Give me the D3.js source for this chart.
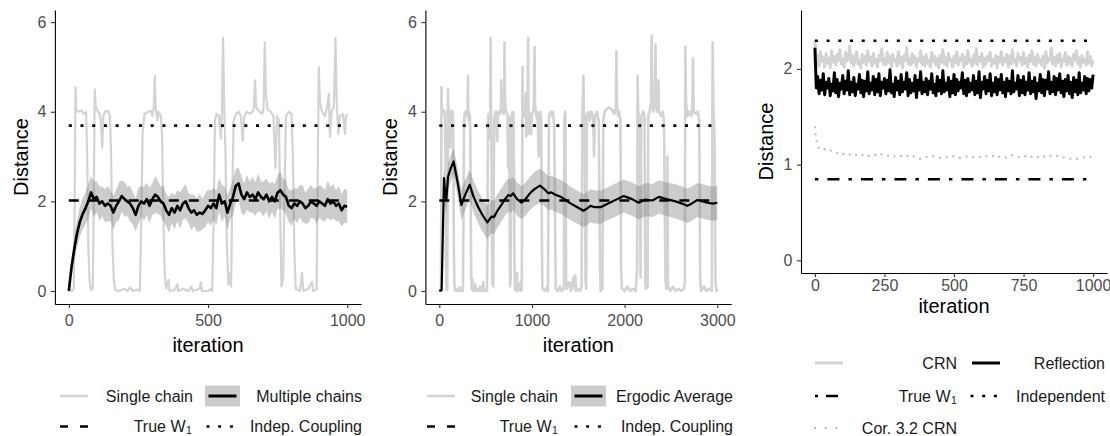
<!DOCTYPE html>
<html><head><meta charset="utf-8">
<script src="https://cdn.jsdelivr.net/npm/d3@7"></script>
<style>
body{margin:0;background:#fff}
svg{display:block}
text{font-family:"Liberation Sans",Arial,Helvetica,sans-serif}
</style>
</head><body>
<svg id="c" width="1110" height="436"></svg>
<script>
// ---------------- DATA ----------------
const trueW1 = 2.02;
const indepCoupling = 3.69;
const trueW1Gauss = 0.847;
const independentGauss = 2.294;

// single chain (first 1000 iterations, shared by panels 1 and 2)
const singleChainFirst = [
[0,0],[6,0.03],[12,0],[18,0.06],[21,2.0],[24,4.55],[27,4.05],[35,4.0],[45,4.03],[55,3.95],[62,4.0],[66,3.0],[70,1.0],[75,0.2],[80,0.02],[86,0.05],[89,1.5],[93,4.5],[97,4.1],[105,4.0],[112,3.95],[117,3.6],[120,3.2],[124,3.9],[130,4.0],[140,4.02],[148,3.9],[152,3.0],[157,1.0],[162,0.2],[168,0.02],[180,0],[200,0.05],[210,0],[220,0.08],[230,0],[245,0.03],[255,0],[260,1.5],[265,3.5],[272,3.95],[285,4.0],[295,4.02],[300,3.9],[305,4.1],[309,4.8],[312,4.1],[318,3.8],[322,4.0],[330,3.9],[335,3.5],[340,1.5],[345,0.3],[350,0.05],[358,0.25],[362,0],[380,0.02],[390,0.15],[393,0],[410,0.05],[430,0],[440,0.1],[445,0],[470,0.05],[475,0.2],[478,0],[500,0],[510,0.05],[515,0],[520,1.5],[525,3.8],[530,3.95],[540,3.9],[546,3.4],[550,4.0],[554,5.65],[558,4.2],[563,3.0],[568,1.0],[573,0.15],[578,0.4],[583,0.1],[587,2.0],[592,3.8],[600,3.95],[610,4.0],[618,3.9],[625,3.35],[630,3.9],[640,4.0],[650,3.95],[660,4.0],[665,4.1],[669,4.7],[673,4.1],[685,4.0],[695,3.95],[700,4.1],[704,5.55],[708,4.4],[714,4.05],[725,4.0],[735,3.9],[742,2.75],[748,3.9],[755,3.8],[760,1.5],[764,0.1],[770,0.3],[776,2.5],[780,3.9],[790,4.0],[800,3.95],[805,3.0],[810,1.0],[815,0.05],[830,0],[838,0.4],[842,0],[860,0.05],[874,0.2],[877,0],[890,0.03],[894,2.5],[898,5.0],[902,4.2],[910,4.0],[920,3.9],[928,4.1],[934,4.4],[938,3.45],[944,4.0],[952,4.1],[958,5.65],[962,4.3],[968,3.5],[974,3.9],[985,3.95],[992,3.5],[996,3.9],[1000,3.95]
];
// single chain continued (iterations 1000-3000, panel 2)
const singleChainLater = [
[1010,4.0],[1020,4.1],[1028,5.45],[1033,4.2],[1045,3.9],[1055,4.0],[1065,3.6],[1072,3.0],[1080,3.9],[1090,4.0],[1100,3.8],[1108,1.0],[1112,0.05],[1140,0],[1160,0.08],[1172,0],[1178,2.0],[1183,3.9],[1200,4.0],[1215,3.9],[1225,4.0],[1240,3.7],[1250,1.5],[1256,0.05],[1280,0],[1300,0.1],[1320,0],[1345,0.05],[1350,3.9],[1360,4.0],[1368,0.3],[1375,0.05],[1400,0.2],[1420,0],[1447,0.3],[1460,0.05],[1468,0.35],[1475,0],[1500,0.05],[1520,0],[1535,0.1],[1545,4.0],[1555,4.8],[1560,4.0],[1570,3.9],[1578,0.2],[1585,0.05],[1592,3.9],[1610,4.0],[1625,3.8],[1640,4.0],[1660,3.9],[1670,3.0],[1680,3.9],[1700,4.0],[1720,3.8],[1735,0.5],[1742,0],[1760,0.05],[1770,3.8],[1785,4.0],[1800,4.05],[1830,4.1],[1860,4.05],[1890,3.95],[1905,4.1],[1911,5.35],[1917,4.2],[1930,3.9],[1942,4.0],[1955,3.8],[1962,0.5],[1970,0.05],[2000,0],[2030,0.1],[2060,0],[2090,0.05],[2120,0],[2135,0.5],[2140,4.8],[2146,4.0],[2160,3.8],[2172,0.3],[2180,3.9],[2200,4.0],[2215,3.9],[2222,0.2],[2230,0.05],[2248,0.1],[2255,3.9],[2270,4.0],[2285,4.2],[2292,5.7],[2298,4.2],[2310,4.0],[2325,4.3],[2333,5.5],[2338,4.2],[2350,4.0],[2360,4.5],[2365,4.7],[2370,4.0],[2390,3.9],[2410,4.0],[2425,3.8],[2440,0.3],[2448,0.05],[2458,0.2],[2462,3.0],[2468,0.1],[2490,0],[2520,0.1],[2550,0],[2580,0.05],[2610,0],[2640,0.05],[2650,0.2],[2655,5.45],[2662,4.2],[2680,3.9],[2700,4.0],[2720,3.9],[2730,4.1],[2738,5.2],[2745,4.0],[2770,3.95],[2790,4.0],[2805,3.8],[2815,0.3],[2825,0],[2860,0.1],[2880,0],[2910,0.05],[2940,0],[2950,5.55],[2958,4.0],[2970,3.5],[2980,0.2],[2990,0],[3000,0.05]
];

// multiple chains average, every 10 iterations (panel 1)
const multiStep = 10;
const multiMean = [0,0.55,0.95,1.3,1.55,1.72,1.85,2.0,2.2,2.05, 2.1,1.95,2.0,1.9,1.95,1.9,1.75,1.9,2.0,2.12, 2.05,2.0,1.95,1.85,1.7,1.9,2.0,1.95,2.05,1.9, 2.05,2.15,2.1,2.0,1.95,1.8,1.7,1.85,1.75,1.9, 1.8,1.95,2.0,1.85,1.75,1.8,1.7,1.75,1.72,1.8, 1.9,1.85,1.95,1.85,2.15,1.95,2.0,1.75,1.95,2.1, 2.35,2.4,2.15,2.05,2.2,2.1,2.15,2.05,2.2,2.1, 2.05,2.15,2.0,2.1,2.0,2.2,2.25,2.15,2.1,1.9, 1.85,1.95,1.9,2.0,1.95,1.85,1.9,2.0,1.95,1.9, 2.0,1.95,1.9,2.05,1.95,2.0,1.9,1.95,1.8,1.9, 1.88];
const multiHalf = [0.02,0.2,0.28,0.3,0.33,0.35,0.36,0.38,0.36,0.4, 0.35,0.38,0.33,0.37,0.4,0.34,0.38,0.36,0.42,0.35, 0.38,0.33,0.4,0.36,0.37,0.41,0.34,0.38,0.36,0.4, 0.35,0.42,0.37,0.33,0.39,0.36,0.4,0.34,0.38,0.35, 0.41,0.36,0.38,0.33,0.4,0.35,0.37,0.42,0.34,0.38, 0.36,0.4,0.35,0.39,0.37,0.42,0.34,0.38,0.36,0.4, 0.38,0.35,0.41,0.36,0.39,0.34,0.4,0.37,0.42,0.35, 0.38,0.36,0.4,0.33,0.39,0.37,0.41,0.35,0.38,0.36, 0.4,0.34,0.38,0.36,0.41,0.35,0.39,0.37,0.33,0.4, 0.36,0.38,0.35,0.41,0.37,0.39,0.34,0.4,0.36,0.38, 0.37];

// ergodic average (panel 2)
const ergodicIter = [0,25,51,62,76,94,125,155,200,238,280,328,370,418,470,519,562,591,630,670,710,743,770,797,840,888,930,978,1030,1086,1130,1176,1210,1249,1303,1350,1411,1480,1556,1600,1632,1680,1740,1800,1850,1920,1990,2080,2152,2224,2300,2369,2450,2550,2620,2676,2730,2785,2840,2893,2950,3000];
const ergodicMean = [0,0.02,2.52,2.2,2.03,2.55,2.75,2.89,2.4,1.92,2.15,2.37,2.1,1.88,1.68,1.53,1.66,1.65,1.8,1.92,2.05,2.14,2.12,2.18,2.05,1.97,2.05,2.18,2.28,2.35,2.28,2.18,2.2,2.15,2.11,2.05,1.96,1.88,1.79,1.85,1.9,1.87,1.87,1.93,1.98,2.05,2.12,2.05,1.97,2.04,2.02,2.1,2.05,2.0,1.95,1.9,1.96,2.03,2.0,1.97,1.95,1.97];
const ergodicHalf = [0,0,0.28,0.3,0.3,0.3,0.3,0.3,0.32,0.33,0.34,0.34,0.35,0.36,0.37,0.37,0.37,0.37,0.37,0.37,0.37,0.37,0.37,0.37,0.37,0.37,0.37,0.37,0.38,0.38,0.38,0.38,0.38,0.38,0.38,0.38,0.37,0.37,0.37,0.37,0.37,0.37,0.37,0.37,0.37,0.37,0.37,0.37,0.37,0.37,0.37,0.37,0.37,0.38,0.38,0.38,0.38,0.38,0.38,0.38,0.38,0.38];

// panel 3: coupling distances, every 5 iterations
const couplingStep = 5;
const crnDist = [2.30,2.05,2.14,2.03,2.18,2.08,2.12,2.02,2.16,2.06, 2.11,2.01,2.19,2.07,2.13,2.04,2.15,2.09,2.20,2.05, 2.10,2.02,2.17,2.08,2.12,2.24,2.06,2.14,2.03,2.11, 2.18,2.05,2.09,2.01,2.15,2.07,2.13,2.04,2.19,2.08, 2.12,2.03,2.16,2.06,2.10,2.02,2.14,2.09,2.21,2.05, 2.11,2.04,2.17,2.07,2.13,2.02,2.15,2.08,2.10,2.03, 2.18,2.06,2.12,2.01,2.14,2.09,2.22,2.05,2.11,2.04, 2.16,2.07,2.13,2.02,2.10,2.08,2.19,2.05,2.12,2.03, 2.15,2.06,2.09,2.02,2.17,2.08,2.13,2.04,2.11,2.01, 2.14,2.07,2.20,2.05,2.12,2.03,2.16,2.09,2.10,2.02, 2.13,2.06,2.18,2.04,2.11,2.08,2.15,2.02,2.12,2.05, 2.19,2.07,2.10,2.03,2.14,2.06,2.21,2.04,2.12,2.08, 2.16,2.02,2.11,2.05,2.13,2.09,2.17,2.03,2.10,2.06, 2.14,2.01,2.12,2.07,2.18,2.04,2.11,2.08,2.15,2.02, 2.13,2.05,2.20,2.07,2.10,2.03,2.16,2.09,2.12,2.04, 2.17,2.06,2.11,2.02,2.14,2.08,2.19,2.05,2.12,2.03, 2.15,2.07,2.10,2.04,2.13,2.01,2.18,2.06,2.11,2.09, 2.22,2.05,2.12,2.03,2.14,2.07,2.16,2.02,2.10,2.08, 2.17,2.04,2.13,2.06,2.11,2.03,2.15,2.09,2.19,2.05, 2.12,2.02,2.14,2.07,2.10,2.04,2.18,2.06,2.13,2.03, 2.09];
const reflectionDist = [2.22,1.80,1.92,1.74,1.88,1.78,1.95,1.73,1.86,1.80, 1.90,1.72,1.84,1.77,1.96,1.75,1.89,1.71,1.85,1.79, 1.93,1.74,1.87,1.78,1.98,1.73,1.86,1.76,1.91,1.72, 1.84,1.79,1.94,1.75,1.88,1.71,1.87,1.77,1.97,1.74, 1.85,1.78,1.92,1.73,1.89,1.76,1.95,1.72,1.86,1.80, 1.90,1.74,1.88,1.77,1.99,1.75,1.84,1.71,1.91,1.78, 1.87,1.73,1.94,1.76,1.86,1.79,1.96,1.72,1.89,1.75, 1.85,1.77,1.93,1.70,1.88,1.78,1.97,1.74,1.86,1.76, 1.90,1.73,1.87,1.79,1.95,1.75,1.84,1.72,1.92,1.77, 1.88,1.74,1.98,1.76,1.85,1.78,1.91,1.71,1.87,1.75, 1.94,1.73,1.89,1.77,1.86,1.80,1.96,1.74,1.88,1.72, 1.90,1.76,1.85,1.78,1.93,1.73,1.87,1.75,1.97,1.70, 1.86,1.79,1.92,1.74,1.88,1.77,1.95,1.72,1.85,1.76, 1.91,1.73,1.89,1.78,1.94,1.75,1.86,1.71,1.90,1.77, 1.87,1.74,1.98,1.76,1.85,1.79,1.93,1.72,1.88,1.75, 1.92,1.73,1.86,1.78,1.96,1.74,1.87,1.76,1.91,1.69, 1.85,1.77,1.94,1.75,1.89,1.72,1.88,1.79,1.97,1.74, 1.86,1.76,1.92,1.73,1.90,1.78,1.95,1.75,1.87,1.71, 1.89,1.77,1.93,1.74,1.86,1.70,1.91,1.76,1.88,1.73, 1.96,1.75,1.85,1.78,1.92,1.74,1.90,1.77,1.89,1.80, 1.94];
const corIter = [0,3,6,10,15,20,30,40,50,60,70,80,90,100,110,120,130,140,150,160,170,180,190,200,210,220,230,240,250,260,270,280,290,300,310,320,330,340,350,360,370,380,390,400,410,420,430,440,450,460,470,480,490,500,510,520,530,540,550,560,570,580,590,600,610,620,630,640,650,660,670,680,690,700,710,720,730,740,750,760,770,780,790,800,810,820,830,840,850,860,870,880,890,900,910,920,930,940,950,960,970,980,990,1000];
const corBound = [1.40,1.30,1.24,1.19,1.17,1.16,1.17,1.15,1.16,1.14,1.13,1.12,1.13,1.11,1.12,1.10,1.11,1.12,1.10,1.11,1.10,1.11,1.09,1.10,1.11,1.10,1.09,1.11,1.10,1.09,1.10,1.08,1.09,1.08,1.09,1.08,1.09,1.10,1.08,1.09,1.07,1.06,1.07,1.08,1.07,1.08,1.09,1.08,1.07,1.08,1.08,1.07,1.08,1.09,1.08,1.07,1.08,1.09,1.08,1.07,1.08,1.09,1.08,1.07,1.08,1.09,1.08,1.09,1.07,1.08,1.09,1.08,1.07,1.08,1.10,1.09,1.08,1.07,1.08,1.09,1.10,1.08,1.09,1.08,1.07,1.09,1.08,1.10,1.09,1.08,1.09,1.08,1.07,1.08,1.07,1.06,1.05,1.06,1.06,1.07,1.08,1.09,1.08,1.09];

const xTicks1 = [0,500,1000], xTicks2 = [0,1000,2000,3000], xTicks3 = [0,250,500,750,1000];
const yTicks12 = [0,2,4,6], yTicks3 = [0,1,2];

// ---------------- STYLE ----------------
const LIGHT = "#d3d3d3", RIB = "#7f7f7f", RIBOP = 0.4;
const DOT = "3,8.7", DASH = "10,10", DOTDASH = "3.5,9,12,9";
const svg = d3.select("#c");

function axes(g, x, y, xt, yt, xpad, xTitleY, yTitleX) {
  const ax = g.append("g").attr("transform", `translate(0,${y.range()[0]})`)
    .call(d3.axisBottom(x).tickValues(xt).tickSize(4).tickSizeOuter(0).tickPadding(xpad).tickFormat(d3.format("d")));
  const ay = g.append("g").attr("transform", `translate(${x.range()[0]},0)`)
    .call(d3.axisLeft(y).tickValues(yt).tickSize(4).tickSizeOuter(0).tickPadding(4.5).tickFormat(d3.format("d")));
  [ax, ay].forEach(a => {
    a.attr("font-family", null).attr("font-size", null);
    a.select(".domain").attr("stroke", "#000").attr("stroke-width", 1.1);
    a.selectAll(".tick line").attr("stroke", "#333").attr("stroke-width", 1.1);
    a.selectAll(".tick text").attr("fill", "#4d4d4d").style("font-size", "16px");
  });
  const xm = (x.range()[0] + x.range()[1]) / 2;
  g.append("text").attr("x", xm).attr("y", xTitleY).attr("text-anchor", "middle")
    .style("font-size", "20px").attr("fill", "#000").text("iteration");
  const ym = (y.range()[0] + y.range()[1]) / 2;
  g.append("text").attr("transform", `translate(${yTitleX},${ym}) rotate(-90)`)
    .attr("text-anchor", "middle").attr("dominant-baseline", "central")
    .style("font-size", "20px").attr("fill", "#000").text("Distance");
}

function hline(g, x, y, x0, x1, v, dash, col, w) {
  g.append("line").attr("x1", x(x0)).attr("x2", x(x1)).attr("y1", y(v)).attr("y2", y(v))
    .attr("stroke", col || "#000").attr("stroke-width", w || 2.6).attr("stroke-dasharray", dash);
}

function legText(g, xr, yc, label, sub) {
  const off = sub ? 6.5 : 0;
  g.append("text").attr("x", xr - off).attr("y", yc + 5.5).attr("text-anchor", "end")
    .style("font-size", "16px").attr("fill", "#1a1a1a").text(label);
  if (sub) g.append("text").attr("x", xr - off + 0.5).attr("y", yc + 7.5).attr("text-anchor", "start")
    .style("font-size", "10.5px").attr("fill", "#1a1a1a").text(sub);
}
function legLine(g, x0, x1, yc, col, w, dash) {
  g.append("line").attr("x1", x0).attr("x2", x1).attr("y1", yc).attr("y2", yc)
    .attr("stroke", col).attr("stroke-width", w).attr("stroke-dasharray", dash || null);
}
function legBox(g, x0, yc) {
  g.append("rect").attr("x", x0).attr("y", yc - 10.5).attr("width", 35).attr("height", 21)
    .attr("fill", RIB).attr("fill-opacity", RIBOP);
  legLine(g, x0 + 3.5, x0 + 31.5, yc, "#000", 3);
}

// ---------------- PANEL 1 ----------------
{
  const g = svg.append("g");
  const x = d3.scaleLinear().domain([-50, 1050]).range([54.9, 361.1]);
  const y = d3.scaleLinear().domain([-0.29, 6.27]).range([304, 10]);
  const line = d3.line().x(d => x(d[0])).y(d => y(d[1]));
  g.append("path").datum(singleChainFirst).attr("d", line).attr("fill", "none")
    .attr("stroke", LIGHT).attr("stroke-width", 2.2).attr("stroke-linejoin", "round");
  const idx = d3.range(multiMean.length);
  g.append("path").datum(idx).attr("d", d3.area().x(i => x(i * multiStep))
      .y0(i => y(multiMean[i] - multiHalf[i])).y1(i => y(multiMean[i] + multiHalf[i])))
    .attr("fill", RIB).attr("fill-opacity", RIBOP);
  hline(g, x, y, 0, 1000, trueW1, DASH);
  g.append("path").datum(idx).attr("d", d3.line().x(i => x(i * multiStep)).y(i => y(multiMean[i])))
    .attr("fill", "none").attr("stroke", "#000").attr("stroke-width", 2.6).attr("stroke-linejoin", "round");
  hline(g, x, y, 0, 1000, indepCoupling, DOT);
  axes(g, x, y, xTicks1, yTicks12, 7, 351.5, 21);
  // legend
  legLine(g, 60, 88, 396, LIGHT, 2.5);
  legText(g, 193, 396, "Single chain");
  legBox(g, 205, 396);
  legText(g, 362, 396, "Multiple chains");
  legLine(g, 60, 88, 426.5, "#000", 2.6, "8,12");
  legText(g, 192, 426.5, "True W", "1");
  legLine(g, 206.5, 237, 426.5, "#000", 2.6, DOT);
  legText(g, 362, 426.5, "Indep. Coupling");
}

// ---------------- PANEL 2 ----------------
{
  const g = svg.append("g");
  const x = d3.scaleLinear().domain([-150, 3150]).range([425.4, 731.2]);
  const y = d3.scaleLinear().domain([-0.29, 6.27]).range([304, 10]);
  const line = d3.line().x(d => x(d[0])).y(d => y(d[1]));
  g.append("path").datum(singleChainFirst.concat(singleChainLater)).attr("d", line).attr("fill", "none")
    .attr("stroke", LIGHT).attr("stroke-width", 2.6).attr("stroke-linejoin", "round");
  const idx = d3.range(ergodicIter.length);
  g.append("path").datum(idx).attr("d", d3.area().x(i => x(ergodicIter[i]))
      .y0(i => y(ergodicMean[i] - ergodicHalf[i])).y1(i => y(ergodicMean[i] + ergodicHalf[i])))
    .attr("fill", RIB).attr("fill-opacity", RIBOP);
  hline(g, x, y, 0, 3000, trueW1, DASH);
  g.append("path").datum(idx).attr("d", d3.line().x(i => x(ergodicIter[i])).y(i => y(ergodicMean[i])))
    .attr("fill", "none").attr("stroke", "#000").attr("stroke-width", 2.2).attr("stroke-linejoin", "round");
  hline(g, x, y, 0, 3000, indepCoupling, DOT);
  axes(g, x, y, xTicks2, yTicks12, 7, 351.5, 390);
  legLine(g, 427, 455, 396, LIGHT, 2.5);
  legText(g, 558, 396, "Single chain");
  legBox(g, 571, 396);
  legText(g, 733, 396, "Ergodic Average");
  legLine(g, 427, 455, 426.5, "#000", 2.6, "8,12");
  legText(g, 558, 426.5, "True W", "1");
  legLine(g, 574.5, 605, 426.5, "#000", 2.6, DOT);
  legText(g, 733, 426.5, "Indep. Coupling");
}

// ---------------- PANEL 3 ----------------
{
  const g = svg.append("g");
  const x = d3.scaleLinear().domain([-50, 1050]).range([801, 1107]);
  const y = d3.scaleLinear().domain([-0.1327, 2.615]).range([273, 10]);
  const idx = d3.range(crnDist.length);
  g.append("path").datum(idx).attr("d", d3.line().x(i => x(i * couplingStep)).y(i => y(crnDist[i])))
    .attr("fill", "none").attr("stroke", LIGHT).attr("stroke-width", 3).attr("stroke-linejoin", "round");
  g.append("path").datum(idx).attr("d", d3.line().x(i => x(i * couplingStep)).y(i => y(reflectionDist[i])))
    .attr("fill", "none").attr("stroke", "#000").attr("stroke-width", 3).attr("stroke-linejoin", "round");
  const ci = d3.range(corIter.length);
  g.append("path").datum(ci).attr("d", d3.line().x(i => x(corIter[i])).y(i => y(corBound[i])))
    .attr("fill", "none").attr("stroke", "#bababa").attr("stroke-width", 2).attr("stroke-dasharray", "2,5");
  hline(g, x, y, 0, 1000, trueW1Gauss, DOTDASH);
  hline(g, x, y, 0, 1000, independentGauss, DOT);
  axes(g, x, y, xTicks3, yTicks3, 3, 312.5, 766);
  legLine(g, 815, 843, 363, LIGHT, 3);
  legText(g, 957, 363, "CRN");
  legLine(g, 972, 1000, 363, "#000", 3);
  legText(g, 1105, 363, "Reflection");
  legLine(g, 815, 843, 396, "#000", 2.6, "3,8,12,8");
  legText(g, 957, 396, "True W", "1");
  legLine(g, 970.5, 1000, 396, "#000", 2.6, DOT);
  legText(g, 1105, 396, "Independent");
  legLine(g, 814, 843, 428, "#bababa", 2, "2,8.7");
  legText(g, 957, 428, "Cor. 3.2 CRN");
}
</script>
</body></html>
